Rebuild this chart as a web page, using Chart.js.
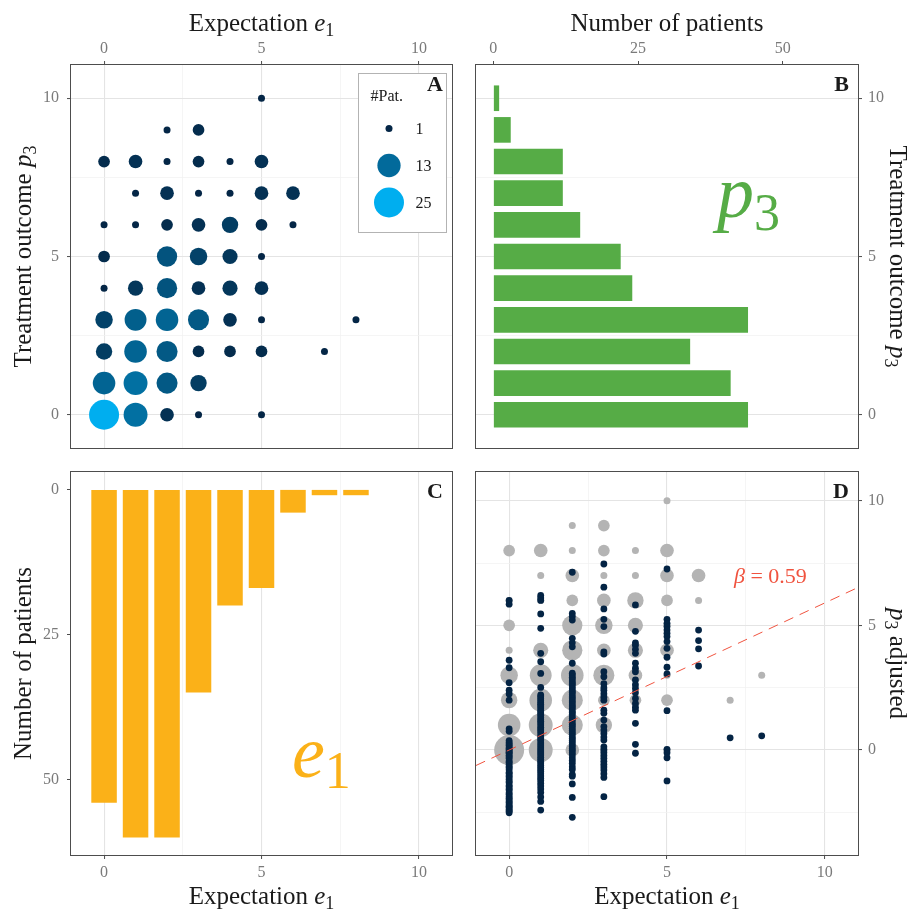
<!DOCTYPE html>
<html>
<head>
<meta charset="utf-8">
<title>Expectation and treatment outcome</title>
<script src="https://cdn.jsdelivr.net/npm/chart.js@4.4.1/dist/chart.umd.min.js"></script>
<style>
  html, body { margin: 0; padding: 0; background: #ffffff; }
  #figure { position: relative; width: 910px; height: 909px; overflow: hidden; background: #ffffff; }
  #figure canvas { position: absolute; }
</style>
</head>
<body>
<div id="figure">
  <canvas id="panelA" width="460" height="455" style="left:0px;top:0px"></canvas>
  <canvas id="panelB" width="450" height="455" style="left:460px;top:0px"></canvas>
  <canvas id="panelC" width="460" height="454" style="left:0px;top:455px"></canvas>
  <canvas id="panelD" width="450" height="454" style="left:460px;top:455px"></canvas>
</div>
<script>
// ---------------- data ----------------
const e1Values = [0, 1, 2, 3, 4, 5, 6, 7, 8];
const p3Values = [0, 1, 2, 3, 4, 5, 6, 7, 8, 9, 10];

// number of patients per cell: one row per p3 value, one column per e1 value
const patientsByCell = [
  /* p3 = 0  */ [25, 14, 3, 1, 0, 1, 0, 0, 0],
  /* p3 = 1  */ [12, 14, 10, 5, 0, 0, 0, 0, 0],
  /* p3 = 2  */ [5, 12, 10, 2, 2, 2, 0, 1, 0],
  /* p3 = 3  */ [6, 11, 12, 10, 3, 1, 0, 0, 1],
  /* p3 = 4  */ [1, 4, 9, 3, 4, 3, 0, 0, 0],
  /* p3 = 5  */ [2, 0, 9, 6, 4, 1, 0, 0, 0],
  /* p3 = 6  */ [1, 1, 2, 3, 5, 2, 1, 0, 0],
  /* p3 = 7  */ [0, 1, 3, 1, 1, 3, 3, 0, 0],
  /* p3 = 8  */ [2, 3, 1, 2, 1, 3, 0, 0, 0],
  /* p3 = 9  */ [0, 0, 1, 2, 0, 0, 0, 0, 0],
  /* p3 = 10 */ [0, 0, 0, 0, 0, 1, 0, 0, 0]
];

const patientsPerP3 = [44, 41, 34, 44, 24, 22, 15, 12, 12, 3, 1];
const patientsPerE1 = [54, 60, 60, 35, 20, 17, 4, 1, 1];

// adjusted outcome of every patient, grouped by expectation e1
const adjustedP3ByE1 = [
  [6.0, 5.85, 3.6, 3.3, 2.7, 2.4, 2.25, 2.0, 0.85, 0.75,
   0.38, 0.3, 0.24, 0.19, 0.12, 0.07, 0.02, -0.04, -0.09, -0.13,
   -0.21, -0.27, -0.33, -0.44, -0.49, -0.57, -0.66, -0.71, -0.79, -0.9,
   -0.94, -1.03, -1.08, -1.17, -1.26, -1.31, -1.42, -1.47, -1.56, -1.6,
   -1.71, -1.77, -1.86, -1.93, -1.99, -2.07, -2.11, -2.19, -2.25, -2.29,
   -2.37, -2.41, -2.46, -2.52],
  [6.2, 6.1, 6.0, 5.46, 4.88, 3.88, 3.54, 3.07, 2.51,
   2.21, 2.14, 2.06, 1.98, 1.9, 1.84, 1.77, 1.69, 1.6, 1.53,
   1.46, 1.39, 1.3, 1.22, 1.15, 1.08, 1.0, 0.91, 0.84, 0.77,
   0.69, 0.6, 0.52, 0.44, 0.37, 0.28, 0.2, 0.12, 0.04, -0.04,
   -0.12, -0.2, -0.29, -0.37, -0.45, -0.52, -0.61, -0.69, -0.78, -0.86,
   -0.95, -1.04, -1.13, -1.22, -1.33, -1.44, -1.56, -1.7, -1.88, -2.06,
   -2.41],
  [7.13, 5.48, 5.35, 5.21, 4.48, 4.3, 4.14, 3.48,
   3.08, 3.01, 2.92, 2.86, 2.77, 2.69, 2.63, 2.54, 2.46, 2.37,
   2.31, 2.22, 2.13, 2.06, 1.97, 1.9, 1.81, 1.74, 1.67, 1.57,
   1.5, 1.43, 1.33, 1.26, 1.19, 1.09, 1.02, 0.95, 0.86, 0.78,
   0.7, 0.63, 0.53, 0.46, 0.38, 0.3, 0.21, 0.14, 0.05, -0.02,
   -0.11, -0.19, -0.31, -0.42, -0.53, -0.67, -0.78,
   -0.98, -1.05, -1.36, -1.9, -2.7],
  [7.46, 6.53, 5.66, 5.24, 4.95, 3.94, 3.85, 3.14, 2.94, 2.66,
   2.5, 2.4, 2.26, 2.12, 2.0, 1.6, 1.47, 1.2, 0.94, 0.8,
   0.66, 0.52, 0.4, 0.13, 0.02, -0.1, -0.22, -0.33, -0.45, -0.57,
   -0.68, -0.8, -0.95, -1.1, -1.87],
  [5.82, 4.76, 4.3, 4.2, 4.04, 3.88, 3.48, 3.28, 3.14, 2.81,
   2.62, 2.47, 2.3, 2.07, 1.87, 1.72, 1.6, 1.07, 0.23, -0.13],
  [7.26, 5.24, 5.08, 4.95, 4.81, 4.68, 4.55, 4.35, 4.08, 3.72,
   3.32, 3.05, 1.58, 0.03, -0.11, -0.31, -1.24],
  [4.81, 4.39, 4.06, 3.37],
  [0.49],
  [0.57]
];

const beta = 0.59;
const legendCounts = [1, 13, 25];

const expectationTicks = [0, 2.5, 5, 7.5, 10];
const outcomeTicks = [0, 2.5, 5, 7.5, 10];
const patientTicks = [0, 25, 50];
const adjustedTicks = [-2.5, 0, 2.5, 5, 7.5, 10];

// ---------------- styling helpers ----------------
const SERIF = "'Liberation Serif', 'DejaVu Serif', serif";
const font = (size, style) => (style ? style + ' ' : '') + size + 'px ' + SERIF;
const INK = '#1a1a1a';
const TICK_TEXT = '#7a7a7a';
const FRAME = '#4d4d4d';
const GREEN = '#56AC46';
const ORANGE = '#FBB118';
const RED = '#F0533F';
const NAVY = '#042444';
const GREY = '#B4B4B4';

Chart.defaults.font.family = SERIF;

const countMin = legendCounts[0];
const countMax = legendCounts[legendCounts.length - 1];
const lowRGB = [4, 38, 70];
const highRGB = [0, 174, 239];

// point diameter grows with the square root of the patient count
function bubbleDiameter(n) {
  return 7 + 23 * Math.sqrt((n - countMin) / (countMax - countMin));
}
function countColor(n) {
  const t = (n - countMin) / (countMax - countMin);
  const c = lowRGB.map((v, i) => Math.round(v + (highRGB[i] - v) * t));
  return 'rgb(' + c.join(',') + ')';
}

const isMajor = v => Math.abs(v % 5) < 1e-9;

function gridOn() {
  return {
    display: true, drawOnChartArea: true, drawTicks: true, tickLength: 4, offset: false,
    color: c => (c.tick && isMajor(c.tick.value)) ? '#E4E4E4' : '#F0F0F0',
    lineWidth: c => (c.tick && isMajor(c.tick.value)) ? 1.1 : 0.7,
    tickColor: c => (c.tick && isMajor(c.tick.value)) ? FRAME : 'rgba(0,0,0,0)',
    tickWidth: 1
  };
}
function gridOff() {
  return { display: true, drawOnChartArea: false, drawTicks: true, tickLength: 4, offset: false,
           tickColor: FRAME, tickWidth: 1 };
}

function linScale(o) {
  return {
    type: 'linear', position: o.position, min: o.min, max: o.max, reverse: !!o.reverse,
    offset: false, beginAtZero: false,
    afterBuildTicks: s => { s.ticks = o.ticks.map(v => ({ value: v })); },
    afterFit: s => {
      if (o.width != null) s.width = o.width;
      if (o.height != null) s.height = o.height;
      s.paddingLeft = 0; s.paddingRight = 0; s.paddingTop = 0; s.paddingBottom = 0;
    },
    ticks: {
      callback: v => isMajor(v) ? String(v) : '',
      color: TICK_TEXT, font: { size: 16 }, padding: o.padding,
      maxRotation: 0, minRotation: 0, autoSkip: false
    },
    grid: o.grid ? gridOn() : gridOff(),
    border: { display: false },
    title: { display: false }
  };
}

// text made of pieces with their own font (italic symbols, subscripts)
function drawRich(ctx, parts, x, y, angle, align) {
  ctx.save();
  ctx.translate(x, y);
  ctx.rotate(angle || 0);
  let w = 0;
  parts.forEach(p => { ctx.font = p.font; p.w = ctx.measureText(p.t).width; w += p.w; });
  let cx = align === 'left' ? 0 : (align === 'right' ? -w : -w / 2);
  ctx.textAlign = 'left';
  ctx.textBaseline = 'alphabetic';
  parts.forEach(p => {
    ctx.font = p.font;
    ctx.fillStyle = p.color || INK;
    ctx.fillText(p.t, cx, p.dy || 0);
    cx += p.w;
  });
  ctx.restore();
}

const expectationTitle = () => [
  { t: 'Expectation ', font: font(25) },
  { t: 'e', font: font(25, 'italic') },
  { t: '1', font: font(18), dy: 5 }
];
const outcomeTitle = () => [
  { t: 'Treatment outcome ', font: font(25) },
  { t: 'p', font: font(25, 'italic') },
  { t: '3', font: font(18), dy: 5 }
];
const patientsTitle = () => [{ t: 'Number of patients', font: font(25) }];

// frame, titles and annotations of one panel; the panel letter goes on top
function panelDecor(letter, extra) {
  return {
    id: 'panelDecor' + letter,
    afterDraw(chart) {
      const ctx = chart.ctx, a = chart.chartArea;
      ctx.save();
      ctx.strokeStyle = FRAME;
      ctx.lineWidth = 1;
      ctx.strokeRect(Math.round(a.left) - 0.5, Math.round(a.top) - 0.5,
                     Math.round(a.right - a.left) + 1, Math.round(a.bottom - a.top) + 1);
      extra(ctx, a);
      ctx.font = font(22, 'bold');
      ctx.fillStyle = INK;
      ctx.textAlign = 'right';
      ctx.textBaseline = 'alphabetic';
      ctx.fillText(letter, a.right - 9, a.top + 26);
      ctx.restore();
    }
  };
}

const baseOptions = (padding) => ({
  responsive: false, animation: false, events: [],
  layout: { padding, autoPadding: false },
  plugins: { legend: { display: false }, tooltip: { enabled: false } }
});

// ---------------- panel A: patients per (e1, p3) ----------------
const cellPoints = [];
patientsByCell.forEach((row, i) => row.forEach((n, j) => {
  if (n > 0) cellPoints.push({ x: e1Values[j], y: p3Values[i], n });
}));

const radiusOf = c => (c.raw && c.raw.n) ? bubbleDiameter(c.raw.n) / 2 : 3;

new Chart(document.getElementById('panelA'), {
  type: 'scatter',
  data: {
    datasets: [{
      data: cellPoints,
      pointRadius: radiusOf, pointHoverRadius: radiusOf,
      backgroundColor: c => (c.raw && c.raw.n) ? countColor(c.raw.n) : NAVY,
      borderWidth: 0
    }]
  },
  options: Object.assign(baseOptions({ left: 0, top: 0, right: 8, bottom: 7 }), {
    scales: {
      x: linScale({ position: 'top', min: -1.05, max: 11.05, ticks: expectationTicks, height: 65, padding: 3, grid: true }),
      y: linScale({ position: 'left', min: -1.05, max: 11.05, ticks: outcomeTicks, width: 71, padding: 8, grid: true })
    }
  }),
  plugins: [panelDecor('A', (ctx, a) => {
    drawRich(ctx, expectationTitle(), (a.left + a.right) / 2, a.top - 34, 0, 'center');
    drawRich(ctx, outcomeTitle(), a.left - 40, (a.top + a.bottom) / 2, -Math.PI / 2, 'center');
    // size / colour key
    const bx = a.left + 287.5, by = a.top + 8.5;
    ctx.fillStyle = '#ffffff';
    ctx.fillRect(bx, by, 88, 159);
    ctx.strokeStyle = '#b3b3b3';
    ctx.lineWidth = 1;
    ctx.strokeRect(bx, by, 88, 159);
    ctx.fillStyle = INK;
    ctx.font = font(16);
    ctx.textAlign = 'left';
    ctx.textBaseline = 'alphabetic';
    ctx.fillText('#Pat.', bx + 12, by + 27);
    legendCounts.forEach((n, k) => {
      const cy = by + 55 + k * 37;
      ctx.beginPath();
      ctx.arc(bx + 30.5, cy, bubbleDiameter(n) / 2, 0, Math.PI * 2);
      ctx.fillStyle = countColor(n);
      ctx.fill();
      ctx.fillStyle = INK;
      ctx.font = font(16);
      ctx.textBaseline = 'middle';
      ctx.fillText(String(n), bx + 57, cy + 1);
    });
  })]
});

// ---------------- panel B: patients per p3 ----------------
new Chart(document.getElementById('panelB'), {
  type: 'bar',
  data: {
    datasets: [{
      data: p3Values.map((p, i) => ({ x: patientsPerP3[i], y: p })),
      backgroundColor: GREEN, borderWidth: 0,
      barPercentage: 0.9, categoryPercentage: 0.9
    }]
  },
  options: Object.assign(baseOptions({ left: 16, top: 0, right: 0, bottom: 7 }), {
    indexAxis: 'y',
    scales: {
      x: linScale({ position: 'top', min: -3, max: 63, ticks: patientTicks, height: 65, padding: 3, grid: false }),
      y: linScale({ position: 'right', min: -1.05, max: 11.05, ticks: outcomeTicks, width: 52, padding: 6, grid: true })
    }
  }),
  plugins: [panelDecor('B', (ctx, a) => {
    drawRich(ctx, patientsTitle(), (a.left + a.right) / 2, a.top - 34, 0, 'center');
    drawRich(ctx, outcomeTitle(), a.right + 32, (a.top + a.bottom) / 2, Math.PI / 2, 'center');
    drawRich(ctx, [
      { t: 'p', font: font(74, 'italic'), color: GREEN },
      { t: '3', font: font(52), color: GREEN, dy: 13 }
    ], a.left + 241, a.top + 152, 0, 'left');
  })]
});

// ---------------- panel C: patients per e1 ----------------
new Chart(document.getElementById('panelC'), {
  type: 'bar',
  data: {
    datasets: [{
      data: e1Values.map((e, i) => ({ x: e, y: patientsPerE1[i] })),
      backgroundColor: ORANGE, borderWidth: 0,
      barPercentage: 0.9, categoryPercentage: 0.9
    }]
  },
  options: Object.assign(baseOptions({ left: 0, top: 17, right: 8, bottom: 0 }), {
    scales: {
      x: linScale({ position: 'bottom', min: -1.05, max: 11.05, ticks: expectationTicks, height: 54, padding: 4, grid: true }),
      y: linScale({ position: 'left', min: -3, max: 63, reverse: true, ticks: patientTicks, width: 71, padding: 8, grid: false })
    }
  }),
  plugins: [panelDecor('C', (ctx, a) => {
    drawRich(ctx, patientsTitle(), a.left - 40, (a.top + a.bottom) / 2, -Math.PI / 2, 'center');
    drawRich(ctx, expectationTitle(), (a.left + a.right) / 2, a.bottom + 49, 0, 'center');
    drawRich(ctx, [
      { t: 'e', font: font(74, 'italic'), color: ORANGE },
      { t: '1', font: font(52), color: ORANGE, dy: 11 }
    ], a.left + 221, a.top + 305, 0, 'left');
  })]
});

// ---------------- panel D: adjusted outcome vs expectation ----------------
const adjustedPoints = [];
adjustedP3ByE1.forEach((vals, k) => vals.forEach(v => adjustedPoints.push({ x: e1Values[k], y: v })));
const dMinX = -1.05, dMaxX = 11.05;

new Chart(document.getElementById('panelD'), {
  type: 'scatter',
  data: {
    datasets: [
      {
        data: [{ x: dMinX, y: beta * dMinX }, { x: dMaxX, y: beta * dMaxX }],
        showLine: true, pointRadius: 0, pointHoverRadius: 0,
        borderColor: RED, borderWidth: 1, borderDash: [10, 7], fill: false, order: 0
      },
      {
        data: adjustedPoints,
        pointRadius: 3.4, pointHoverRadius: 3.4,
        backgroundColor: NAVY, borderWidth: 0, order: 1
      },
      {
        data: cellPoints,
        pointRadius: radiusOf, pointHoverRadius: radiusOf,
        backgroundColor: GREY, borderWidth: 0, order: 2
      }
    ]
  },
  options: Object.assign(baseOptions({ left: 16, top: 17, right: 0, bottom: 0 }), {
    scales: {
      x: linScale({ position: 'bottom', min: dMinX, max: dMaxX, ticks: expectationTicks, height: 54, padding: 4, grid: true }),
      y: linScale({ position: 'right', min: -4.21, max: 11.15, ticks: adjustedTicks, width: 52, padding: 6, grid: true })
    }
  }),
  plugins: [panelDecor('D', (ctx, a) => {
    drawRich(ctx, expectationTitle(), (a.left + a.right) / 2, a.bottom + 49, 0, 'center');
    drawRich(ctx, [
      { t: 'p', font: font(25, 'italic') },
      { t: '3', font: font(18), dy: 5 },
      { t: ' adjusted', font: font(25) }
    ], a.right + 32, (a.top + a.bottom) / 2, Math.PI / 2, 'center');
    drawRich(ctx, [
      { t: 'β', font: font(22, 'italic'), color: RED },
      { t: ' = ' + beta.toFixed(2), font: font(22), color: RED }
    ], a.left + 258, a.top + 111, 0, 'left');
  })]
});
</script>
</body>
</html>
